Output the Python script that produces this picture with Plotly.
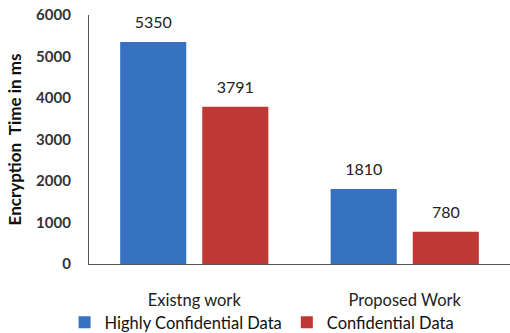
import plotly.graph_objects as go

categories = ["Existng work", "Proposed Work"]
series_names = ["Highly Confidential Data", "Confidential Data"]
highly_conf = [5350, 1810]
conf = [3791, 780]
colors = ["#3672C0", "#C03833"]
y_ticks = [0, 1000, 2000, 3000, 4000, 5000, 6000]

font_family = "Lato, 'Open Sans', sans-serif"

fig = go.Figure()
for i, (name, vals, col) in enumerate(zip(series_names, [highly_conf, conf], colors)):
    fig.add_trace(go.Bar(
        name=name, x=categories, y=vals, offsetgroup=str(i),
        marker=dict(color=col, line=dict(width=0)),
    ))
for i, vals in enumerate([highly_conf, conf]):
    fig.add_trace(go.Scatter(
        x=categories, y=vals, offsetgroup=str(i), mode="markers+text",
        text=[str(v) for v in vals], textposition="top center",
        marker=dict(size=14, opacity=0),
        textfont=dict(size=16, color="#222222", family=font_family),
        showlegend=False, cliponaxis=False, hoverinfo="skip",
    ))

fig.update_layout(
    width=510, height=333,
    margin=dict(l=89, r=0, t=15, b=69, autoexpand=False),
    paper_bgcolor="white", plot_bgcolor="white",
    barmode="group", bargap=0.22, bargroupgap=0.195,
    scattermode="group", scattergap=0.22,
    font=dict(family=font_family, color="#222222"),
    showlegend=True,
    legend=dict(orientation="h", x=-0.058, xanchor="left", y=-0.235, yanchor="middle",
                bgcolor="rgba(0,0,0,0)",
                font=dict(size=16.5, color="#111111"), itemwidth=30,
                tracegroupgap=0),
    xaxis=dict(showline=True, linecolor="#555555", linewidth=1.2, showgrid=False,
               ticks="", ticklabelstandoff=21,
               tickfont=dict(size=16.5, color="#222222")),
    yaxis=dict(range=[0, 6000], tickvals=y_ticks, showline=True, linecolor="#555555",
               linewidth=1.2, showgrid=False, ticks="", zeroline=False,
               ticklabelstandoff=14,
               tickfont=dict(size=15, color="#333333", weight="bold"),
               title=dict(text="<b>Encryption  Time in ms</b>", standoff=10,
                          font=dict(size=17, color="#111111"))),
)

fig.write_html("out.html")
